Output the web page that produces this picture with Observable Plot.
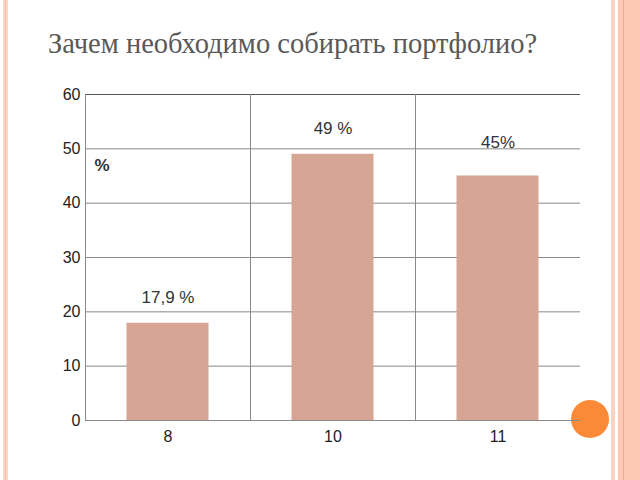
<!DOCTYPE html>
<html>
<head>
<meta charset="utf-8">
<script src="https://cdn.jsdelivr.net/npm/d3@7"></script>
<script src="https://cdn.jsdelivr.net/npm/@observablehq/plot@0.6"></script>
<style>
  html, body { margin: 0; padding: 0; background: #fff; }
  #slide { position: relative; width: 640px; height: 480px; overflow: hidden; background: #fff; }
  .stripe { position: absolute; top: 0; height: 480px; }
  #title { position: absolute; left: 48px; top: 28px; font-family: "Liberation Serif", "Times New Roman", serif; font-size: 28.5px; color: #595959; white-space: nowrap; }
  #dot { position: absolute; left: 571px; top: 400px; width: 38px; height: 38px; border-radius: 50%; background: #fb8a38; }
  #chart { position: absolute; left: 0; top: 0; }
  #chart svg g[aria-label="y-axis tick label"] text,
  #chart svg g[aria-label="x-axis tick label"] text { font-size: 16px !important; }
</style>
</head>
<body>
<div id="slide">
  <div class="stripe" style="left:3px;width:5px;background:#fad9cb;"></div>
  <div class="stripe" style="left:5px;width:1px;background:#f3bfa9;"></div>
  <div class="stripe" style="left:611px;width:4px;background:#f9d3c4;"></div>
  <div class="stripe" style="left:618px;width:22px;background:#fcc7b3;"></div>
  <div class="stripe" style="left:623px;width:1px;background:#eeab8f;"></div>
  <div id="title">Зачем необходимо собирать портфолио?</div>
  <div id="dot"></div>
  <div id="chart"></div>
</div>
<script>
const categories = ["8", "10", "11"];
const values = [17.9, 49, 45];
const valueLabels = ["17,9 %", "49 %", "45%"];
const yTicks = [0, 10, 20, 30, 40, 50, 60];
const unitLabel = "%";

const data = categories.map((c, i) => ({cat: c, value: values[i], label: valueLabels[i]}));
const labelOffset = [4.8, 4.8, 6.1];

const W = 640, H = 460;
const mL = 85, mR = 60, mT = 94, mB = 40;
const bw = (W - mL - mR) / categories.length;

const chart = Plot.plot({
  width: W,
  height: H,
  marginLeft: mL,
  marginRight: mR,
  marginTop: mT,
  marginBottom: mB,
  style: {background: "transparent", fontFamily: "Arial, 'Liberation Sans', sans-serif", fontSize: "16px", color: "#333"},
  x: {domain: categories, padding: 0, label: null},
  y: {domain: [0, 60], label: null},
  marks: [
    Plot.ruleY(yTicks, {stroke: "#8a8a8a", strokeWidth: 1}),
    Plot.ruleY([60], {stroke: "#555", strokeWidth: 1}),
    Plot.ruleX(categories, {x: d => d, dx: -bw / 2, y1: 0, y2: 60, stroke: "#8a8a8a"}),
    Plot.barY(data, {x: "cat", y: "value", fill: "#d6a594", insetLeft: 41.5, insetRight: 41.5}),
    Plot.text(data, {x: "cat", y: (d, i) => d.value + labelOffset[i], text: "label", fontSize: 17, fill: "#333"}),
    Plot.text([unitLabel], {frameAnchor: "top-left", dx: 9, dy: 64, text: d => d, fontSize: 17, fontWeight: "bold", fill: "#333"}),
    Plot.axisY({ticks: yTicks, tickSize: 0, tickPadding: 5, fontSize: 16, fill: "#222"}),
    Plot.axisX({tickSize: 0, tickPadding: 10, fontSize: 16, fill: "#222"})
  ]
});
document.getElementById("chart").appendChild(chart);
</script>
</body>
</html>
